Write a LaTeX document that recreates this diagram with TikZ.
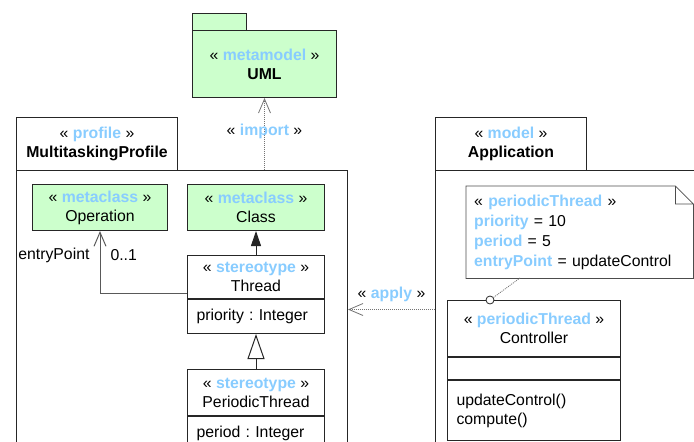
\documentclass[tikz,border=0pt]{standalone}
\usepackage{fontspec}
\setmainfont{Liberation Sans}
\usetikzlibrary{positioning, arrows.meta}

\definecolor{stereoblue}{RGB}{136,204,255}
\definecolor{metagreen}{RGB}{204,255,204}
\newcommand{\st}[1]{«~\textcolor{stereoblue}{\textbf{#1}}~»}
\newcommand{\umlfont}{\fontsize{15.8}{19}\selectfont}
\newcommand{\notefont}{\fontsize{15.8}{20}\selectfont}
\frenchspacing

\begin{document}
\begin{tikzpicture}[x=1pt, y=-1pt, font=\umlfont,
  box/.style={draw=black!85, line width=1pt, inner sep=0pt, align=center, anchor=north west},
  meta/.style={box, fill=metagreen},
  attr/.style={box, align=left, inner xsep=9pt},
  dep/.style={black!55, line width=0.8pt, dash pattern=on 1pt off 1pt,
    -{Straight Barb[length=14pt, width=12pt]}},
  assoc/.style={black!65, line width=1pt, -{Straight Barb[length=14pt, width=12pt]}}]
  \useasboundingbox (0,0) rectangle (694,442);

  % packages
  \node [meta, minimum width=54, minimum height=17] (umltab) at (192,13) {};
  \node [meta, minimum width=144, minimum height=67] (uml) at (192,30) {\st{metamodel}\\\textbf{UML}};
  \node [box, minimum width=161, minimum height=53] (proftab) at (16,117) {\st{profile}\\\textbf{MultitaskingProfile}};
  \node [box, minimum width=331, minimum height=280] (profile) at (16,170) {};
  \node [box, minimum width=151, minimum height=53] (apptab) at (435,117) {\st{model}\\\textbf{Application}};
  \node [box, minimum width=280, minimum height=278] (app) at (435,170) {};

  % profile content
  \node [meta, minimum width=135, minimum height=46] (operation) at (32,184) {\st{metaclass}\\Operation};
  \node [meta, minimum width=137, minimum height=46] (class) at (187,184) {\st{metaclass}\\Class};
  \node [box, minimum width=137, minimum height=43] (thread) at (187,255) {\st{stereotype}\\Thread};
  \node [attr, below=0pt of thread, text width=119, minimum height=34] (threadattr) {priority : Integer};
  \node [box, minimum width=137, minimum height=46] (pthread) at (187,369) {\st{stereotype}\\PeriodicThread};
  \node [attr, below=0pt of pthread, text width=119, minimum height=34] (pthreadattr) {period : Integer};

  % model content
  \node [box, minimum width=173, minimum height=56] (controller) at (447,300) {\st{periodicThread}\\Controller};
  \node [attr, below=0pt of controller, text width=155, minimum height=22] (ctrlattr) {};
  \node [attr, below=0pt of ctrlattr, text width=155, minimum height=60] (ctrlops) {updateControl()\\compute()};
  \node [anchor=north west, inner xsep=8pt, inner ysep=0pt, text width=211, minimum height=92,
    align=left, font=\notefont] (note) at (466,186)
    {\st{periodicThread}\\
     \textcolor{stereoblue}{\textbf{priority}} = 10\\
     \textcolor{stereoblue}{\textbf{period}} = 5\\
     \textcolor{stereoblue}{\textbf{entryPoint}} = updateControl};
  \draw [black!70, line width=0.8pt] (note.north west) -- ([xshift=-18pt]note.north east)
    -- ([yshift=-18pt]note.north east) -- (note.south east) -- (note.south west) -- cycle
    ([xshift=-18pt]note.north east) |- ([yshift=-18pt]note.north east);

  % connectors
  \draw [dep] (uml.south |- profile.north) -- (uml.south)
    node [pos=0.53, text=black] (importlbl) {\st{import}};
  \draw [dep] (app.west) -- (profile.east |- app.west)
    node [midway, above=4pt, text=black] (applylbl) {\st{apply}};
  \draw [-{Triangle[length=15pt, width=10pt]}, black!85, line width=1pt] (thread) -- (class);
  \draw [-{Triangle[open, length=25pt, width=17pt]}, black!85, line width=1pt] (pthread) -- (threadattr);
  \draw [assoc] ([yshift=-16.5pt]thread.west) -| (operation.south);
  \node [left=7pt, anchor=east] (eplbl) at ([yshift=-24pt]operation.south) {entryPoint};
  \node [right=7pt, anchor=west] (multlbl) at ([yshift=-24pt]operation.south) {0..1};

  \coordinate (notefoot) at (520,278);
  \node [circle, draw=black!85, fill=white, line width=0.8pt, minimum size=8, inner sep=0pt] (pin) at (490,300) {};
  \draw [black!55, line width=0.8pt, dash pattern=on 1pt off 1pt] (pin) -- (notefoot);
\end{tikzpicture}
\end{document}
